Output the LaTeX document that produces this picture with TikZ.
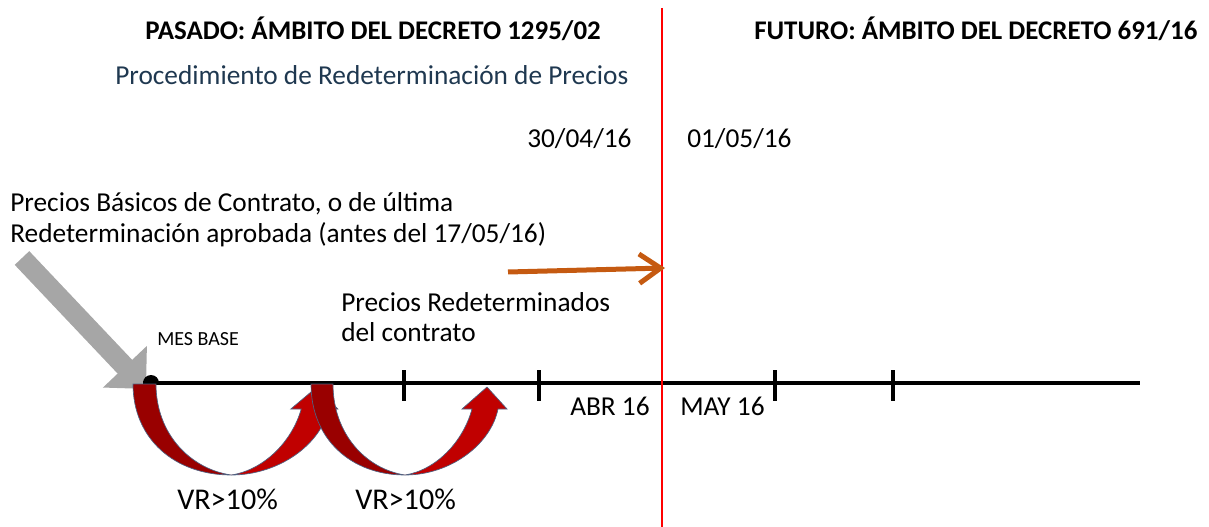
\documentclass[tikz,border=0pt]{standalone}
\usepackage{fontspec}
\setmainfont{Carlito}
\usetikzlibrary{arrows.meta}
\definecolor{curvedark}{RGB}{153,0,0}
\definecolor{curvebright}{RGB}{192,0,0}
\definecolor{curveedge}{RGB}{79,98,130}
\definecolor{pointergrey}{RGB}{166,166,166}
\definecolor{shiftorange}{RGB}{197,90,17}
\definecolor{proctext}{RGB}{31,56,80}

\begin{document}
\begin{tikzpicture}[x=0.75pt,y=-0.75pt,
    txt/.style={anchor=base west,inner sep=0pt,font=\fontsize{20.5}{25}\selectfont},
    titletxt/.style={txt,font=\fontsize{20.2}{25}\selectfont\bfseries},
    smalltxt/.style={txt,font=\fontsize{15}{18}\selectfont},
    bigtxt/.style={txt,font=\fontsize{22.6}{27}\selectfont},
    axistick/.style={line width=3.5pt},
    darkband/.style={fill=curvedark,draw=curveedge,line width=0.5pt},
    brightband/.style={fill=curvebright,draw=curveedge,line width=0.5pt}]
  \useasboundingbox (0,0) rectangle (1209,527);
  % titles
  \node[titletxt] (pasado) at (145,40) {PASADO: ÁMBITO DEL DECRETO 1295/02};
  \node[titletxt] (futuro) at (754,40) {FUTURO: ÁMBITO DEL DECRETO 691/16};
  \node[txt,text=proctext] (proc) at (115,85) {Procedimiento de Redeterminación de Precios};
  \node[txt] (fechaa) at (527,148) {30/04/16};
  \node[txt] (fechab) at (687,148) {01/05/16};
  \node[txt] (basicosa) at (10,212) {Precios Básicos de Contrato, o de última};
  \node[txt] (basicosb) at (10,243) {Redeterminación aprobada (antes del 17/05/16)};
  \node[txt] (redeta) at (341,311) {Precios Redeterminados};
  \node[txt] (redetb) at (341,341) {del contrato};
  \node[smalltxt] (mesbase) at (157,345) {MES BASE};
  \node[txt] (abr) at (570,415) {ABR 16};
  \node[txt] (may) at (680,415) {MAY 16};
  \node[bigtxt] (vra) at (177,509) {VR>10\%};
  \node[bigtxt] (vrb) at (355,509) {VR>10\%};
  % grey pointer to the base month
  \coordinate (greystart) at (22,258);
  \coordinate (greyend) at (146,389);
  \draw[pointergrey,line width=15pt,-{Triangle[width=44pt,length=23pt]}] (greystart) -- (greyend);
  % time axis
  \coordinate (axisstart) at (143,383);
  \coordinate (axisend) at (1140,383);
  \draw[line width=3pt] (axisstart) -- (axisend);
  \foreach \x in {404,539,775,893}{
    \draw[axistick] (\x,370) -- (\x,401);
  }
  \fill (143,383) arc[start angle=180,end angle=360,radius=8] -- cycle;
  % change of regime
  \coordinate (divtop) at (662,8);
  \coordinate (divbot) at (662,527);
  \draw[red,line width=1.5pt] (divtop) -- (divbot);
  \coordinate (orangestart) at (508,272);
  \coordinate (orangeend) at (665,268);
  \draw[shiftorange,line width=3.75pt,-{Straight Barb[length=16pt,width=22pt]}] (orangestart) -- (orangeend);
  % curved arrows
  \foreach \xo/\sc in {133/1.045,311/1}{
    \begin{scope}[shift={(\xo,384)},xscale=\sc]
      \filldraw[darkband] (0,0) .. controls (0,55) and (40,91) .. (94,91)
        .. controls (55,85) and (22,50) .. (22,0) -- cycle;
      \filldraw[brightband] (94,91) .. controls (140,91) and (180,60) .. (187,25)
        -- (196,25) -- (176,3) -- (151,25) -- (161,25)
        .. controls (152,58) and (125,86) .. (94,91) -- cycle;
    \end{scope}
  }
\end{tikzpicture}
\end{document}
